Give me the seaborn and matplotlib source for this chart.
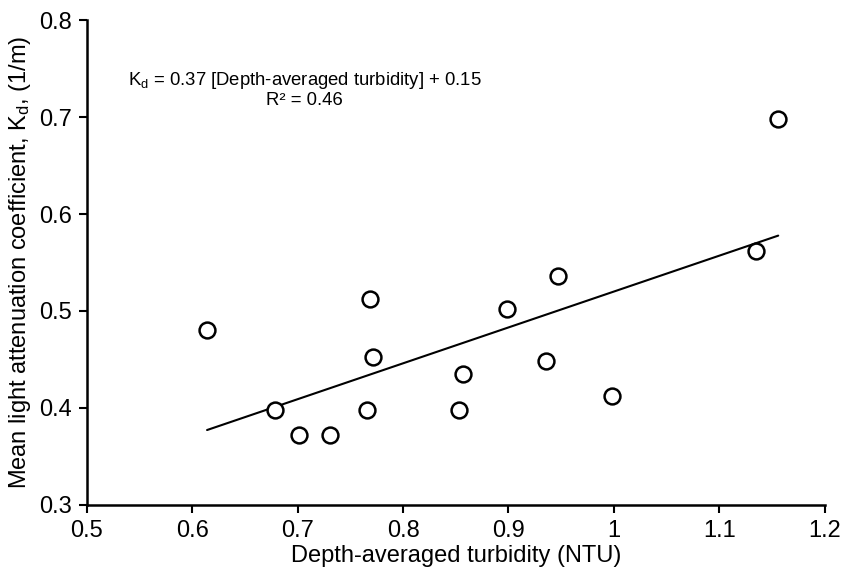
import matplotlib
matplotlib.use("Agg")
import matplotlib.pyplot as plt
import seaborn as sns
import pandas as pd
import numpy as np

# data
turbidity = [0.614, 0.678, 0.701, 0.731, 0.766, 0.769, 0.771, 0.853, 0.857,
             0.899, 0.936, 0.947, 0.998, 1.135, 1.156]
kd = [0.480, 0.398, 0.372, 0.372, 0.398, 0.512, 0.452, 0.398, 0.435,
      0.502, 0.448, 0.536, 0.412, 0.562, 0.698]
slope = 0.37
intercept = 0.15
x_ticks = [0.5, 0.6, 0.7, 0.8, 0.9, 1.0, 1.1, 1.2]
x_tick_labels = ['0.5', '0.6', '0.7', '0.8', '0.9', '1', '1.1', '1.2']
y_ticks = [0.3, 0.4, 0.5, 0.6, 0.7, 0.8]

df = pd.DataFrame({'turbidity': turbidity, 'kd': kd})

sns.set_style("white")
plt.rcParams['font.family'] = ['Liberation Sans', 'DejaVu Sans']
plt.rcParams['mathtext.fontset'] = 'custom'
plt.rcParams['mathtext.rm'] = 'Liberation Sans'
plt.rcParams['mathtext.it'] = 'Liberation Sans'
plt.rcParams['text.color'] = 'black'
plt.rcParams['axes.labelcolor'] = 'black'

fig = plt.figure(figsize=(8.44, 5.75), dpi=100)
ax = fig.add_axes([0.103, 0.122, 0.874, 0.843])

# trend line
fit_x = np.array([min(turbidity), max(turbidity)])
fit = pd.DataFrame({'x': fit_x, 'y': slope * fit_x + intercept})
sns.lineplot(data=fit, x='x', y='y', color='black', linewidth=1.5, ax=ax)

sns.scatterplot(data=df, x='turbidity', y='kd', ax=ax, s=130,
                facecolor='white', edgecolor='black', linewidth=1.8, zorder=3)

ax.set_xlim(0.5, 1.2)
ax.set_ylim(0.3, 0.8)
ax.set_xticks(x_ticks)
ax.set_xticklabels(x_tick_labels)
ax.set_yticks(y_ticks)
ax.set_yticklabels([f'{v:.1f}' for v in y_ticks])
ax.tick_params(axis='both', direction='out', length=6, width=1.5, labelsize=17,
               colors='black', left=True, bottom=True, pad=5)
for side in ['top', 'right']:
    ax.spines[side].set_visible(False)
for side in ['left', 'bottom']:
    ax.spines[side].set_color('black')
    ax.spines[side].set_linewidth(1.8)

ax.set_xlabel('Depth-averaged turbidity (NTU)', fontsize=17, labelpad=2)
ax.set_ylabel(r'Mean light attenuation coefficient, K$_\mathrm{d}$, (1/m)',
              fontsize=17, labelpad=4)

ax.text(0.295, 0.876, r'K$_\mathrm{d}$ = 0.37 [Depth-averaged turbidity] + 0.15',
        transform=ax.transAxes, ha='center', va='center', fontsize=13.3)
ax.text(0.295, 0.835, 'R² = 0.46', transform=ax.transAxes, ha='center',
        va='center', fontsize=13.3)

fig.savefig('out.png', dpi=100)
